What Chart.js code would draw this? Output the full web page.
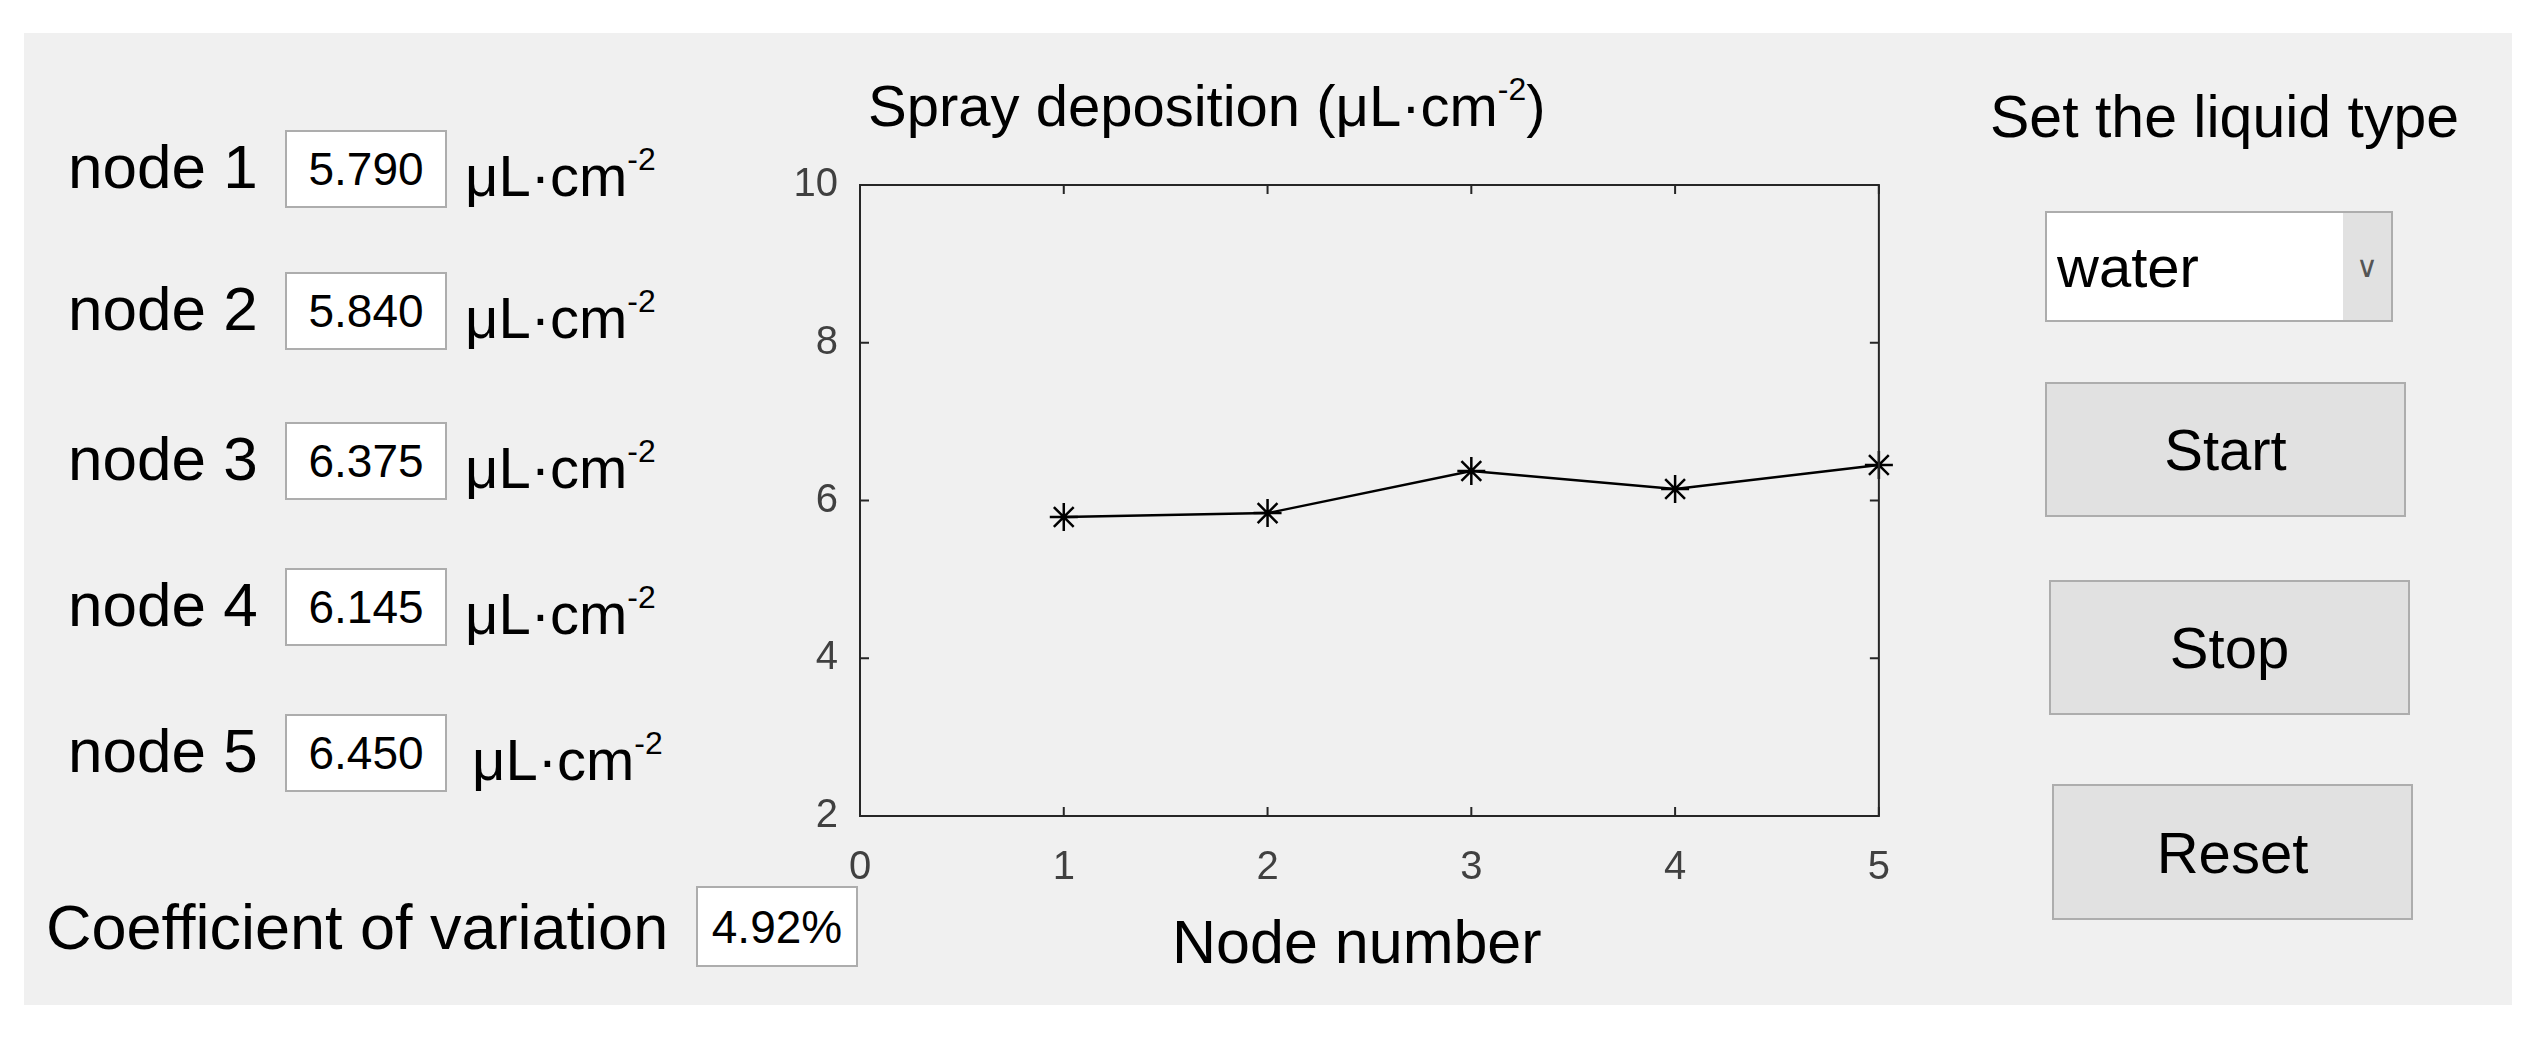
<!DOCTYPE html>
<html><head><meta charset="utf-8">
<script src="https://cdn.jsdelivr.net/npm/chart.js@4"></script>
<style>
body{margin:0;width:2537px;height:1038px;background:#fff;font-family:"Liberation Sans",Arial,sans-serif;position:relative;overflow:hidden}
#panel{position:absolute;left:24px;top:33px;width:2488px;height:972px;background:#f0f0f0}
.t{position:absolute;color:#000;white-space:nowrap;line-height:1}
.box{position:absolute;background:#fff;border:2px solid #adadad;box-sizing:border-box;font-size:46px;display:flex;align-items:center;justify-content:center}
.btn{position:absolute;background:#e1e1e1;border:2px solid #adadad;box-sizing:border-box;font-size:58px;display:flex;align-items:center;justify-content:center}
sup{font-size:0.55em;vertical-align:0.8em}
#cw{position:absolute;left:760px;top:147px;width:1150px;height:853px}
</style></head><body>
<div id="panel"></div>
<div id="ui"></div>
<div class="t" style="left:868px;top:74px;font-size:58px">Spray deposition (μL·cm<sup>-2</sup>)</div>
<div class="t" style="left:1990px;top:88px;font-size:59px">Set the liquid type</div>
<div class="box" style="left:2045px;top:211px;width:348px;height:111px;justify-content:flex-start;padding-left:10px;font-size:58px">water<div style="position:absolute;right:0;top:0;width:48px;height:107px;background:#e1e1e1;font-size:30px;display:flex;align-items:center;justify-content:center;color:#555">&#x2228;</div></div>
<div class="btn" style="left:2045px;top:382px;width:361px;height:135px">Start</div>
<div class="btn" style="left:2049px;top:580px;width:361px;height:135px">Stop</div>
<div class="btn" style="left:2052px;top:784px;width:361px;height:136px">Reset</div>
<div class="t" style="left:46px;top:896px;font-size:63px">Coefficient of variation</div>
<div class="box" style="left:696px;top:886px;width:162px;height:81px">4.92%</div>
<div class="t" style="left:1172px;top:912px;font-size:61px">Node number</div>
<div id="cw"><canvas id="c"></canvas></div>
<script>
const nodeLabels=["node 1","node 2","node 3","node 4","node 5"];
const nodeNumbers=[1,2,3,4,5];
const deposition=[5.790,5.840,6.375,6.145,6.450];
const coefficient="4.92%";
const yTicks=[2,4,6,8,10];
const xTicks=[0,1,2,3,4,5];

const rowsY=[130,272,422,568,714];
const ui=document.getElementById('ui');
nodeLabels.forEach((n,i)=>{
  const y=rowsY[i];
  ui.insertAdjacentHTML('beforeend',
   `<div class="t" style="left:68px;top:${y+6}px;font-size:62px">${n}</div>`+
   `<div class="box" style="left:285px;top:${y}px;width:162px;height:78px">${deposition[i].toFixed(3)}</div>`+
   `<div class="t" style="left:${i==4?472:465}px;top:${y+14}px;font-size:58px">μL·cm<sup>-2</sup></div>`);
});

const frame={id:'frame',afterDraw(ch){
  const a=ch.chartArea,c=ch.ctx,L=9;
  c.save();c.strokeStyle='#262626';c.lineWidth=2;
  c.strokeRect(a.left,a.top,a.right-a.left,a.bottom-a.top);
  xTicks.forEach(v=>{const x=ch.scales.x.getPixelForValue(v);
    c.beginPath();c.moveTo(x,a.bottom);c.lineTo(x,a.bottom-L);c.moveTo(x,a.top);c.lineTo(x,a.top+L);c.stroke();});
  yTicks.forEach(v=>{const y=ch.scales.y.getPixelForValue(v);
    c.beginPath();c.moveTo(a.left,y);c.lineTo(a.left+L,y);c.moveTo(a.right,y);c.lineTo(a.right-L,y);c.stroke();});
  c.restore();
}};

new Chart(document.getElementById('c'),{
  type:'line',
  data:{datasets:[{data:nodeNumbers.map((x,i)=>({x,y:deposition[i]})),
    borderColor:'#000',backgroundColor:'#000',borderWidth:2.5,
    pointStyle:'star',pointRadius:14,pointBorderWidth:2.5,pointBorderColor:'#000',tension:0,clip:false}]},
  options:{responsive:true,maintainAspectRatio:false,animation:false,
    layout:{padding:{top:10,right:0,left:0,bottom:0}},
    plugins:{legend:{display:false},tooltip:{enabled:false}},
    scales:{
      x:{type:'linear',min:0,max:5,grid:{display:false},border:{display:false},
        afterBuildTicks:s=>{s.ticks=xTicks.map(v=>({value:v}));},
        afterFit:s=>{s.height=184;},
        ticks:{padding:20,color:'#404040',font:{family:'"Liberation Sans",Arial',size:40}}},
      y:{min:2,max:10,grid:{display:false},border:{display:false},
        afterBuildTicks:s=>{s.ticks=yTicks.map(v=>({value:v}));},
        afterFit:s=>{s.width=100;},
        ticks:{padding:14,color:'#404040',font:{family:'"Liberation Sans",Arial',size:40}}}
    }},
  plugins:[frame]
});
</script>
</body></html>
